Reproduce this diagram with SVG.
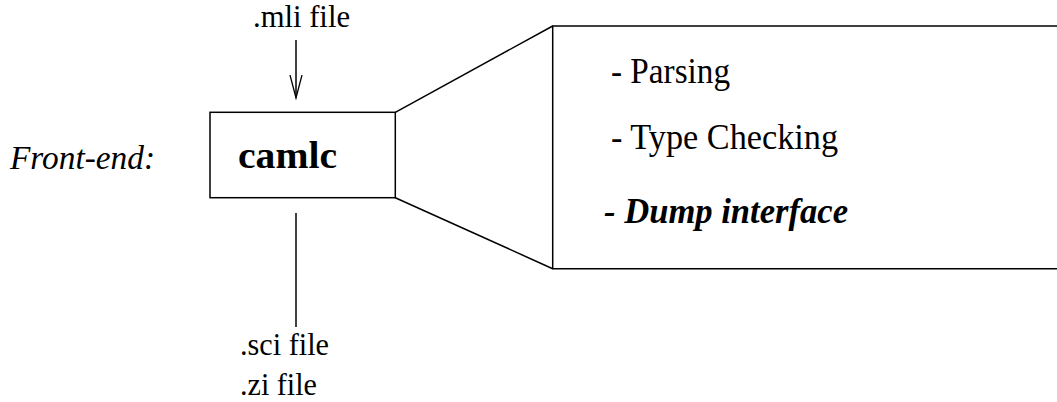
<svg xmlns="http://www.w3.org/2000/svg" width="1057" height="402" viewBox="0 0 1057 402">
<style>
.ln{stroke:#000;stroke-width:1.5;fill:none}
text{font-family:'Liberation Serif','Times New Roman',serif;fill:#000}
</style>
<defs>
<marker id="open" markerWidth="16" markerHeight="28" refX="7" refY="23" orient="0" markerUnits="userSpaceOnUse">
<path d="M1,0 L7,23 L13,0" stroke="#000" stroke-width="1.3" fill="none"/>
</marker>
</defs>
<rect width="1057" height="402" fill="#fff"/>
<g id="label-frontend"><text x="10" y="169" font-size="34" font-style="italic" textLength="145" lengthAdjust="spacingAndGlyphs">Front-end:</text></g>
<g id="camlc">
<rect class="ln" x="210" y="112.3" width="185.3" height="85.4"/>
<text x="238" y="168" font-size="37" font-weight="bold" textLength="99" lengthAdjust="spacingAndGlyphs">camlc</text>
</g>
<g id="detail">
<path class="ln" d="M1060,26 L552.7,26 L552.7,268.7 L1060,268.7"/>
<text x="611" y="83" font-size="36" textLength="119" lengthAdjust="spacingAndGlyphs">- Parsing</text>
<text x="611" y="149" font-size="36" textLength="227" lengthAdjust="spacingAndGlyphs">- Type Checking</text>
<text x="604" y="223" font-size="36" font-weight="bold" font-style="italic" textLength="244" lengthAdjust="spacingAndGlyphs">- Dump interface</text>
</g>
<g id="mli"><text x="253" y="27" font-size="31" textLength="97" lengthAdjust="spacingAndGlyphs">.mli file</text></g>
<g id="outputs">
<text x="240" y="355" font-size="32" textLength="89" lengthAdjust="spacingAndGlyphs">.sci file</text>
<text x="240" y="395" font-size="32" textLength="77" lengthAdjust="spacingAndGlyphs">.zi file</text>
</g>
<g id="connectors">
<line class="ln" x1="296" y1="40" x2="296" y2="98" marker-end="url(#open)"/>
<line class="ln" x1="296" y1="213" x2="296" y2="327"/>
<line class="ln" x1="395.3" y1="112.3" x2="552.7" y2="26"/>
<line class="ln" x1="395.3" y1="197.7" x2="552.7" y2="268.7"/>
</g>
</svg>
